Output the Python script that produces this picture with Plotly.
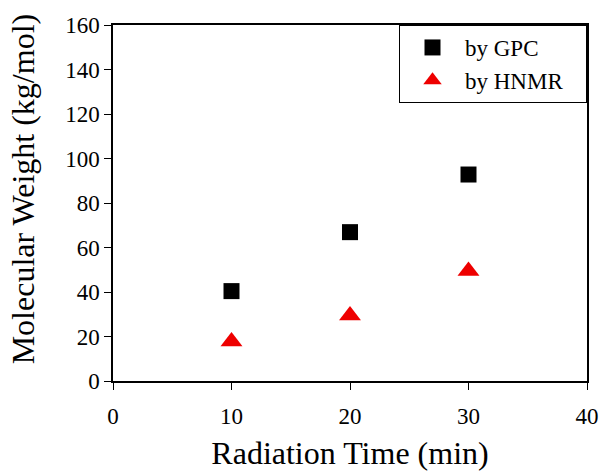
import plotly.graph_objects as go

time_min = [10, 20, 30]
gpc = [40.4, 66.9, 92.8]
hnmr = [17.8, 29.4, 49.4]
series_names = ["by GPC", "by HNMR"]

x_ticks = [0, 10, 20, 30, 40]
y_ticks = [0, 20, 40, 60, 80, 100, 120, 140, 160]

pad = "\u00a0" * 3  # widen legend box to match the reference

fig = go.Figure()
fig.add_trace(go.Scatter(x=time_min, y=gpc, mode="markers", name=series_names[0],
                         marker=dict(symbol="square", size=16, color="black")))
fig.add_trace(go.Scatter(x=time_min, y=hnmr, mode="markers", name=series_names[1] + pad,
                         marker=dict(symbol="triangle-up", size=19, color="#ee0000")))

font = "Liberation Serif, Times New Roman, serif"
fig.update_layout(
    width=601, height=471,
    margin=dict(l=113, r=14, t=25, b=90, autoexpand=False),
    paper_bgcolor="white", plot_bgcolor="white",
    font=dict(family=font, color="black", size=22),
    legend=dict(x=1, y=1, xanchor="right", yanchor="top",
                bordercolor="black", borderwidth=1, bgcolor="white",
                font=dict(size=23), itemwidth=55, tracegroupgap=0),
    showlegend=True,
    annotations=[dict(text="Molecular Weight (kg/mol)", textangle=-90,
                      xref="paper", yref="paper", x=-0.19, y=0.541,
                      xanchor="center", yanchor="middle", showarrow=False,
                      font=dict(size=32))],
)
fig.update_xaxes(range=[0, 40], tickvals=x_ticks, automargin=False,
                 showline=True, linecolor="black", linewidth=1.5, mirror=True,
                 ticks="outside", ticklen=7, tickcolor="black", showgrid=False, zeroline=False,
                 ticklabelstandoff=7,
                 title=dict(text="Radiation Time (min)", font=dict(size=32), standoff=18),
                 tickfont=dict(size=23))
fig.update_yaxes(range=[0, 160], tickvals=y_ticks, automargin=False,
                 showline=True, linecolor="black", linewidth=1.5, mirror=True,
                 ticks="outside", ticklen=7, tickcolor="black", showgrid=False, zeroline=False,
                 tickfont=dict(size=23))
fig.write_html("out.html", config={"displayModeBar": False},
               post_script="document.body.style.margin='0';")
